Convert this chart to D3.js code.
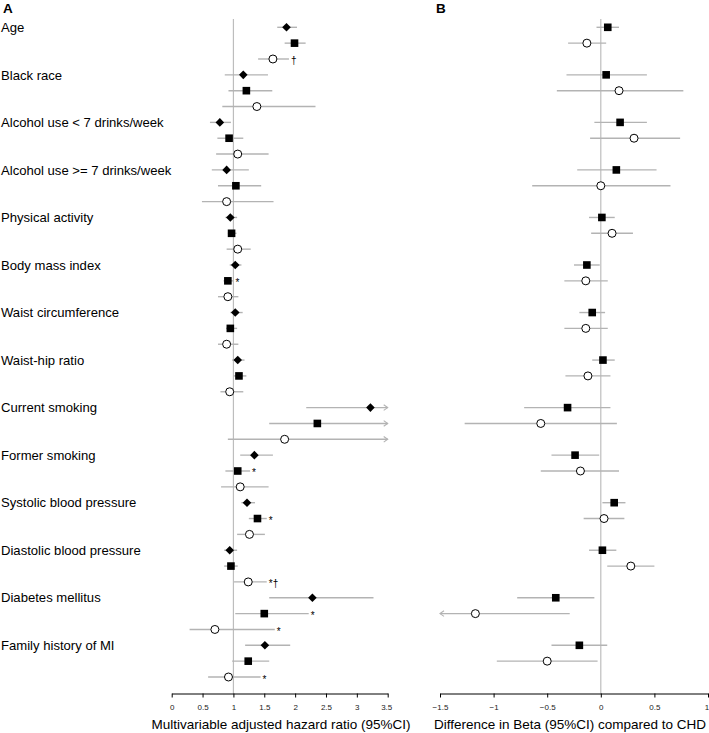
<!DOCTYPE html>
<html><head><meta charset="utf-8">
<script src="https://cdn.jsdelivr.net/npm/d3@7"></script>
<style>body{margin:0;background:#fff}svg{display:block;font-family:"Liberation Sans",Arial,sans-serif}</style>
</head><body>
<script>
// ---- data ----
const categories = ["Age","Black race","Alcohol use < 7 drinks/week","Alcohol use >= 7 drinks/week","Physical activity","Body mass index","Waist circumference","Waist-hip ratio","Current smoking","Former smoking","Systolic blood pressure","Diastolic blood pressure","Diabetes mellitus","Family history of MI"];

// Panel A: hazard ratios (diamond / square / circle outcomes)
const hrDiamond   = [1.86,1.16,0.78,0.89,0.95,1.03,1.03,1.07,3.22,1.34,1.22,0.94,2.28,1.51];
const hrDiamondLo = [1.71,0.86,0.62,0.65,0.87,0.94,0.95,0.98,2.18,1.11,1.13,0.85,1.58,1.19];
const hrDiamondHi = [2.03,1.56,0.96,1.25,1.06,1.13,1.15,1.18,4.80,1.64,1.35,1.06,3.27,1.92];
const hrSquare    = [1.99,1.21,0.93,1.04,0.97,0.91,0.95,1.09,2.36,1.07,1.39,0.96,1.50,1.24];
const hrSquareLo  = [1.83,0.92,0.74,0.75,0.91,0.84,0.88,1.00,1.58,0.87,1.25,0.85,1.03,0.98];
const hrSquareHi  = [2.17,1.63,1.16,1.45,1.05,1.00,1.06,1.21,3.60,1.27,1.54,1.07,2.22,1.58];
const hrCircle    = [1.64,1.38,1.07,0.89,1.07,0.91,0.89,0.94,1.83,1.11,1.26,1.24,0.70,0.92];
const hrCircleLo  = [1.40,0.82,0.72,0.49,0.89,0.75,0.75,0.79,0.91,0.80,1.06,1.01,0.29,0.59];
const hrCircleHi  = [1.90,2.33,1.57,1.65,1.28,1.08,1.08,1.16,3.70,1.57,1.51,1.54,1.67,1.44];
const noteSquare  = ["","","","","","*","","","","*","*","","*",""];
const noteCircle  = ["\u2020","","","","","","","","","","","*\u2020","*","*"];

// Panel B: difference in beta compared to CHD
const dbSquare    = [0.065,0.05,0.18,0.145,0.01,-0.13,-0.08,0.02,-0.31,-0.24,0.125,0.015,-0.42,-0.20];
const dbSquareLo  = [-0.04,-0.32,-0.06,-0.22,-0.11,-0.25,-0.20,-0.08,-0.715,-0.46,0.015,-0.11,-0.78,-0.46];
const dbSquareHi  = [0.17,0.43,0.43,0.52,0.13,-0.01,0.04,0.13,0.09,-0.015,0.23,0.145,-0.06,0.06];
const dbCircle    = [-0.13,0.17,0.31,0.00,0.105,-0.14,-0.14,-0.12,-0.56,-0.19,0.03,0.28,-1.17,-0.50];
const dbCircleLo  = [-0.305,-0.41,-0.10,-0.64,-0.09,-0.34,-0.34,-0.33,-1.27,-0.56,-0.16,0.06,-1.90,-0.97];
const dbCircleHi  = [0.05,0.77,0.74,0.65,0.30,0.065,0.065,0.09,0.15,0.17,0.22,0.50,-0.29,-0.03];

const ticksA = [0,0.5,1,1.5,2,2.5,3,3.5];
const ticksB = [-1.5,-1,-0.5,0,0.5,1];

// ---- layout ----
const W = 709, H = 733;
const svg = d3.select("body").append("svg").attr("width",W).attr("height",H);
const nRows = categories.length*3;
const y = d3.scaleLinear().domain([0,nRows-1]).range([27.3,677]);
const xA = d3.scaleLinear().domain([0,3.5]).range([171.7,387.7]);
const xB = d3.scaleLinear().domain([-1.5,1]).range([440,708]);
const axisY = 693.5;
const ciColor = "#b3b3b3";

// Panel letters
svg.append("text").attr("x",3).attr("y",13).attr("font-size",13.5).attr("font-weight","bold").text("A");
svg.append("text").attr("x",436).attr("y",13).attr("font-size",13.5).attr("font-weight","bold").text("B");

// Category labels
svg.append("g").selectAll("text").data(categories).join("text")
  .attr("x",1).attr("y",(d,i)=>y(i*3)).attr("dy","0.36em")
  .attr("font-size",13.1).attr("fill","#000").text(d=>d);

function refLine(x, v){
  svg.append("line").attr("x1",x(v)).attr("x2",x(v)).attr("y1",19).attr("y2",axisY)
    .attr("stroke","#bdbdbd").attr("stroke-width",1.2);
}
refLine(xA,1); refLine(xB,0);

function axis(x, ticks, title, titleX){
  const g = svg.append("g").attr("transform",`translate(0,${axisY})`)
    .call(d3.axisBottom(x).tickValues(ticks).tickSize(4).tickSizeOuter(0).tickFormat(d3.format("")));
  g.select(".domain").attr("stroke","#000").attr("stroke-width",1);
  g.selectAll(".tick line").attr("stroke","#000");
  g.selectAll(".tick text").attr("font-size",8).attr("font-family","Liberation Sans, Arial, sans-serif").attr("fill","#222").attr("y",11);
  g.selectAll(".tick:last-of-type text").attr("dx",-1.5);
  svg.append("text").attr("x",titleX).attr("y",729).attr("text-anchor","middle").attr("font-size",13.5).text(title);
}
axis(xA, ticksA, "Multivariable adjusted hazard ratio (95%CI)", 281);
axis(xB, ticksB, "Difference in Beta (95%CI) compared to CHD", 570);

function series(x, est, lo, hi, rowOffset, shape, notes){
  const [dmin,dmax] = x.domain();
  const data = est.map((e,i)=>({e, lo:lo[i], hi:hi[i], row:i*3+rowOffset, note:notes?notes[i]:""}));
  const g = svg.append("g");
  data.forEach(d=>{
    const cy = y(d.row);
    const l = Math.max(d.lo,dmin), h = Math.min(d.hi,dmax);
    g.append("line").attr("x1",x(l)).attr("x2",x(h)).attr("y1",cy).attr("y2",cy)
      .attr("stroke",ciColor).attr("stroke-width",1.4);
    if (d.hi > dmax){
      const xe = x(dmax);
      g.append("path").attr("d",`M${xe-4},${cy-2.8}L${xe},${cy}L${xe-4},${cy+2.8}`)
        .attr("fill","none").attr("stroke",ciColor).attr("stroke-width",1.1);
    }
    if (d.lo < dmin){
      const xs = x(dmin);
      g.append("path").attr("d",`M${xs+4},${cy-2.8}L${xs},${cy}L${xs+4},${cy+2.8}`)
        .attr("fill","none").attr("stroke",ciColor).attr("stroke-width",1.1);
    }
    const cx = x(d.e);
    if (shape==="diamond"){
      g.append("path").attr("d",`M${cx},${cy-4.3}L${cx+4.3},${cy}L${cx},${cy+4.3}L${cx-4.3},${cy}Z`).attr("fill","#000");
    } else if (shape==="square"){
      g.append("rect").attr("x",cx-3.8).attr("y",cy-3.8).attr("width",7.6).attr("height",7.6).attr("fill","#000");
    } else {
      g.append("circle").attr("cx",cx).attr("cy",cy).attr("r",4).attr("fill","#fff").attr("stroke","#000").attr("stroke-width",1);
    }
    if (d.note){
      g.append("text").attr("x",x(Math.min(d.hi,dmax))+2).attr("y",cy).attr("dy","0.55em")
        .attr("font-size",10).attr("fill","#000").style("fill","#000").text(d.note);
    }
  });
}
series(xA, hrDiamond, hrDiamondLo, hrDiamondHi, 0, "diamond");
series(xA, hrSquare, hrSquareLo, hrSquareHi, 1, "square", noteSquare);
series(xA, hrCircle, hrCircleLo, hrCircleHi, 2, "circle", noteCircle);
series(xB, dbSquare, dbSquareLo, dbSquareHi, 0, "square");
series(xB, dbCircle, dbCircleLo, dbCircleHi, 1, "circle");
</script>
</body></html>
